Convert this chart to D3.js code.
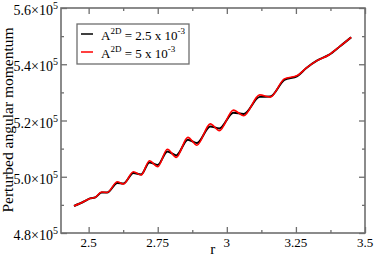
<!DOCTYPE html>
<html>
<head>
<meta charset="utf-8">
<script src="https://cdn.jsdelivr.net/npm/d3@7"></script>
<style>
  body { margin: 0; background: #fff; }
</style>
</head>
<body>
<div id="chart"></div>
<script>
let width = 374,
  height = 257;

let rVals = [2.447, 2.483, 2.505, 2.523, 2.547, 2.567, 2.604, 2.626, 2.662, 2.690,
  2.720, 2.750, 2.785, 2.817, 2.859, 2.892, 2.940, 2.973, 3.024, 3.061,
  3.119, 3.157, 3.208, 3.255, 3.288, 3.326, 3.369, 3.411, 3.450];

// A2D = 2.5e-3 (black), units of 1e5
let smallAmp = [4.896, 4.912, 4.923, 4.926, 4.944, 4.944, 4.978, 4.976, 5.013, 5.008,
  5.051, 5.042, 5.090, 5.076, 5.132, 5.120, 5.179, 5.172, 5.228, 5.223,
  5.284, 5.285, 5.344, 5.358, 5.387, 5.413, 5.433, 5.465, 5.496];

// A2D = 5e-3 (red), units of 1e5
let bigAmp = [4.896, 4.912, 4.923, 4.926, 4.946, 4.944, 4.982, 4.974, 5.018, 5.006,
  5.057, 5.036, 5.098, 5.069, 5.140, 5.112, 5.188, 5.164, 5.237, 5.217,
  5.291, 5.283, 5.348, 5.360, 5.387, 5.413, 5.433, 5.465, 5.496];

let xMajor = [2.5, 2.75, 3, 3.25, 3.5];
let xMinor = [2.625, 2.875, 3.125, 3.375];
let yMajor = [4.8, 5.0, 5.2, 5.4, 5.6];
let yMinor = [4.9, 5.1, 5.3, 5.5];
let xLabels = ['2.5', '2.75', '3', '3.25', '3.5'];
let yLabels = ['4.8', '5.0', '5.2', '5.4', '5.6'];

let plotLeft = 61, plotRight = 365, plotTop = 8, plotBottom = 233;
let serif = "'Liberation Serif', 'Times New Roman', Times, serif";

let svg = d3.select('#chart')
  .append('svg')
  .attr('width', width)
  .attr('height', height)
  .attr('font-family', serif);

let xScale = d3.scaleLinear().domain([2.4, 3.5]).range([plotLeft, plotRight]);
let yScale = d3.scaleLinear().domain([4.8, 5.6]).range([plotBottom, plotTop]);

let axisColor = '#6e6e6e';

function styleAxis(g) {
  g.select('.domain').remove();
  g.selectAll('line').attr('stroke', axisColor).attr('stroke-width', 1.3);
  g.selectAll('text').remove();
}

// ticks pointing inward on all four sides
svg.append('g').attr('transform', 'translate(0,' + plotBottom + ')')
  .call(d3.axisBottom(xScale).tickValues(xMajor).tickSize(-6)).call(styleAxis);
svg.append('g').attr('transform', 'translate(0,' + plotBottom + ')')
  .call(d3.axisBottom(xScale).tickValues(xMinor).tickSize(-3)).call(styleAxis);
svg.append('g').attr('transform', 'translate(0,' + plotTop + ')')
  .call(d3.axisTop(xScale).tickValues(xMajor).tickSize(-6)).call(styleAxis);
svg.append('g').attr('transform', 'translate(0,' + plotTop + ')')
  .call(d3.axisTop(xScale).tickValues(xMinor).tickSize(-3)).call(styleAxis);
svg.append('g').attr('transform', 'translate(' + plotLeft + ',0)')
  .call(d3.axisLeft(yScale).tickValues(yMajor).tickSize(-6)).call(styleAxis);
svg.append('g').attr('transform', 'translate(' + plotLeft + ',0)')
  .call(d3.axisLeft(yScale).tickValues(yMinor).tickSize(-3)).call(styleAxis);
svg.append('g').attr('transform', 'translate(' + plotRight + ',0)')
  .call(d3.axisRight(yScale).tickValues(yMajor).tickSize(-6)).call(styleAxis);
svg.append('g').attr('transform', 'translate(' + plotRight + ',0)')
  .call(d3.axisRight(yScale).tickValues(yMinor).tickSize(-3)).call(styleAxis);

// frame
svg.append('rect')
  .attr('x', plotLeft).attr('y', plotTop)
  .attr('width', plotRight - plotLeft).attr('height', plotBottom - plotTop)
  .attr('fill', 'none').attr('stroke', axisColor).attr('stroke-width', 1.6);

// x tick labels
svg.selectAll('.xlab')
  .data(xMajor)
  .enter()
  .append('text')
  .attr('class', 'xlab')
  .attr('x', d => xScale(d))
  .attr('y', plotBottom + 14)
  .attr('text-anchor', 'middle')
  .attr('font-size', 13)
  .text((d, i) => xLabels[i]);

// y tick labels like 5.6x10^5
let ylab = svg.selectAll('.ylab')
  .data(yMajor)
  .enter()
  .append('text')
  .attr('class', 'ylab')
  .attr('x', plotLeft - 3)
  .attr('y', d => yScale(d) + 7)
  .attr('text-anchor', 'end')
  .attr('font-size', 14);
ylab.append('tspan').text((d, i) => yLabels[i] + '\u00d710');
ylab.append('tspan').attr('dy', -6).attr('font-size', 10).text('5');

// axis titles
svg.append('text')
  .attr('x', xScale(3.0) - 14)
  .attr('y', 254)
  .attr('text-anchor', 'middle')
  .attr('font-size', 15)
  .text('r');

svg.append('text')
  .attr('transform', 'translate(13,120) rotate(-90)')
  .attr('text-anchor', 'middle')
  .attr('font-size', 15.5)
  .text('Perturbed angular momentum');

// curves
let line = d3.line()
  .x((d, i) => xScale(rVals[i]))
  .y(d => yScale(d))
  .curve(d3.curveMonotoneX);

svg.append('path')
  .datum(smallAmp)
  .attr('d', line)
  .attr('fill', 'none')
  .attr('stroke', '#000')
  .attr('stroke-width', 2);

svg.append('path')
  .datum(bigAmp)
  .attr('d', line)
  .attr('fill', 'none')
  .attr('stroke', '#ff0000')
  .attr('stroke-width', 1.6);

// legend
let legend = svg.append('g').attr('id', 'legend');
legend.append('rect')
  .attr('x', 77).attr('y', 24)
  .attr('width', 112).attr('height', 40)
  .attr('fill', '#fff').attr('stroke', axisColor).attr('stroke-width', 1.3);

let legendItems = [
  { color: '#000', value: '2.5' },
  { color: '#ff0000', value: '5' }
];

let item = legend.selectAll('.legend-label')
  .data(legendItems)
  .enter()
  .append('g')
  .attr('class', 'legend-label')
  .attr('transform', (d, i) => 'translate(0,' + (34 + i * 18) + ')');

item.append('line')
  .attr('x1', 81).attr('x2', 93)
  .attr('y1', 0).attr('y2', 0)
  .attr('stroke', d => d.color)
  .attr('stroke-width', 1.5);

let lt = item.append('text')
  .attr('x', 101)
  .attr('y', 6)
  .attr('font-size', 13);
lt.append('tspan').text('A');
lt.append('tspan').attr('dy', -6).attr('font-size', 9).text('2D');
lt.append('tspan').attr('dy', 6).text(d => ' = ' + d.value + ' x 10');
lt.append('tspan').attr('dy', -6).attr('font-size', 9).text('-3');
</script>
</body>
</html>
